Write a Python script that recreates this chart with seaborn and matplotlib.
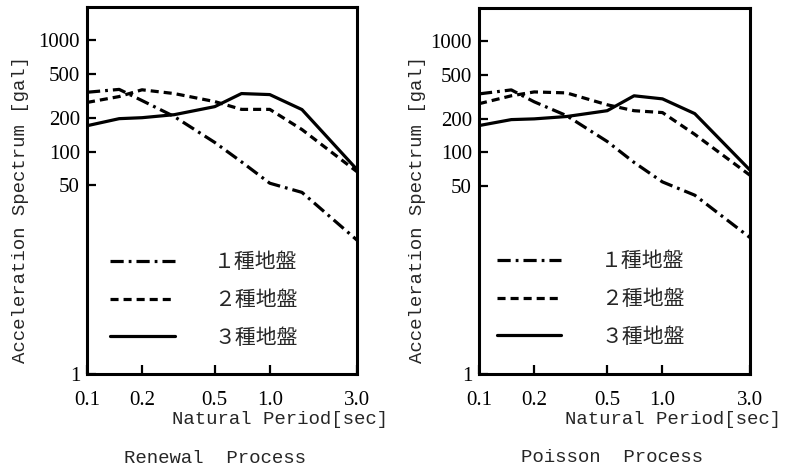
import matplotlib
matplotlib.use("Agg")
import matplotlib.pyplot as plt
import seaborn as sns
import pandas as pd
from matplotlib.ticker import FixedLocator, FixedFormatter, NullLocator

# ---------------- data ----------------
periods = [0.1, 0.15, 0.2, 0.3, 0.5, 0.7, 1.0, 1.5, 3.0]
ground_labels = ["１種地盤", "２種地盤", "３種地盤"]

renewal_type1 = [342, 363, 288, 207, 121, 81, 52, 43, 16]
renewal_type2 = [277, 313, 360, 333, 282, 240, 240, 158, 66]
renewal_type3 = [171, 198, 202, 215, 254, 333, 326, 239, 69]

poisson_type1 = [336, 365, 285, 214, 125, 81, 54, 41, 17]
poisson_type2 = [274, 323, 350, 343, 268, 237, 228, 145, 62]
poisson_type3 = [174, 197, 200, 210, 237, 323, 303, 223, 69]

panel_titles = ["Renewal  Process", "Poisson  Process"]
x_ticks = [0.1, 0.2, 0.5, 1.0, 3.0]
x_tick_labels = ["0.1", "0.2", "0.5", "1.0", "3.0"]
y_ticks = [1, 50, 100, 200, 500, 1000]
y_tick_labels = ["1", "50", "100", "200", "500", "1000"]

# ---------------- style ----------------
sns.set_style("ticks")
plt.rcParams["font.family"] = ["Liberation Serif", "DejaVu Serif"]
plt.rcParams["lines.scale_dashes"] = False

MONO = ["Liberation Mono", "DejaVu Sans Mono"]
CJK = ["Noto Sans CJK JP", "DejaVu Sans"]

dash_map = {
    ground_labels[0]: (9.5, 3.6, 2.0, 3.6),
    ground_labels[1]: (5.8, 3.6),
    ground_labels[2]: "",
}


def make_df(t1, t2, t3):
    rows = []
    for lab, vals in zip(ground_labels, [t1, t2, t3]):
        for p, v in zip(periods, vals):
            rows.append({"period": p, "value": v, "ground": lab})
    return pd.DataFrame(rows)


dfs = [make_df(renewal_type1, renewal_type2, renewal_type3),
       make_df(poisson_type1, poisson_type2, poisson_type3)]

fig = plt.figure(figsize=(7.98, 4.73), dpi=100)
ax_rects = [
    [87 / 798, 1 - 374 / 473, 270 / 798, 367 / 473],
    [479 / 798, 1 - 374 / 473, 271 / 798, 366 / 473],
]
legend_anchor = [(0.085, 0.2016), (0.066, 0.205)]
ylabel_x = [20, 417]
ylabel_y = 209
title_x = [0.474, 0.49]

for i, (rect, df) in enumerate(zip(ax_rects, dfs)):
    ax = fig.add_axes(rect)
    sns.lineplot(data=df, x="period", y="value", style="ground",
                 dashes=dash_map, style_order=ground_labels,
                 color="black", linewidth=2.3, legend=False, ax=ax)
    ax.set_xscale("log")
    ax.set_yscale("log")
    ax.set_xlim(0.1, 3.0)
    ax.set_ylim(1, 2000)

    ax.xaxis.set_major_locator(FixedLocator(x_ticks))
    ax.xaxis.set_major_formatter(FixedFormatter(x_tick_labels))
    ax.xaxis.set_minor_locator(NullLocator())
    ax.yaxis.set_major_locator(FixedLocator(y_ticks))
    ax.yaxis.set_major_formatter(FixedFormatter(y_tick_labels))
    ax.yaxis.set_minor_locator(NullLocator())

    ax.tick_params(axis="both", which="major", direction="in", length=6.5,
                   width=1.6, color="black", labelsize=15, labelcolor="black")
    ax.tick_params(axis="x", pad=12)
    ax.tick_params(axis="y", pad=5)
    for s in ax.spines.values():
        s.set_visible(True)
        s.set_linewidth(2.2)
        s.set_color("black")

    ax.set_xlabel("Natural Period[sec]", family=MONO, fontsize=13.7,
                  ha="right", va="center")
    ax.xaxis.set_label_coords(1.115, -0.123)
    ax.set_ylabel("Acceleration Spectrum [gal]", family=MONO, fontsize=13.7,
                  ha="center", va="center")
    x0 = rect[0] * 798
    ax.yaxis.set_label_coords((ylabel_x[i] - x0) / (rect[2] * 798),
                              (374 - ylabel_y) / (rect[3] * 473))
    ax.set_title(panel_titles[i], family=MONO, fontsize=13.7,
                 y=-0.229, va="center", x=title_x[i], pad=0)

    handles = ax.get_lines()[:3]
    ax.legend(handles, ground_labels, loc="center left",
              bbox_to_anchor=legend_anchor[i], frameon=False,
              prop={"family": CJK, "size": 15},
              handlelength=3.1, handletextpad=1.9,
              labelspacing=0.75, borderpad=0, borderaxespad=0)

fig.savefig("out.png", dpi=100, facecolor="white")
